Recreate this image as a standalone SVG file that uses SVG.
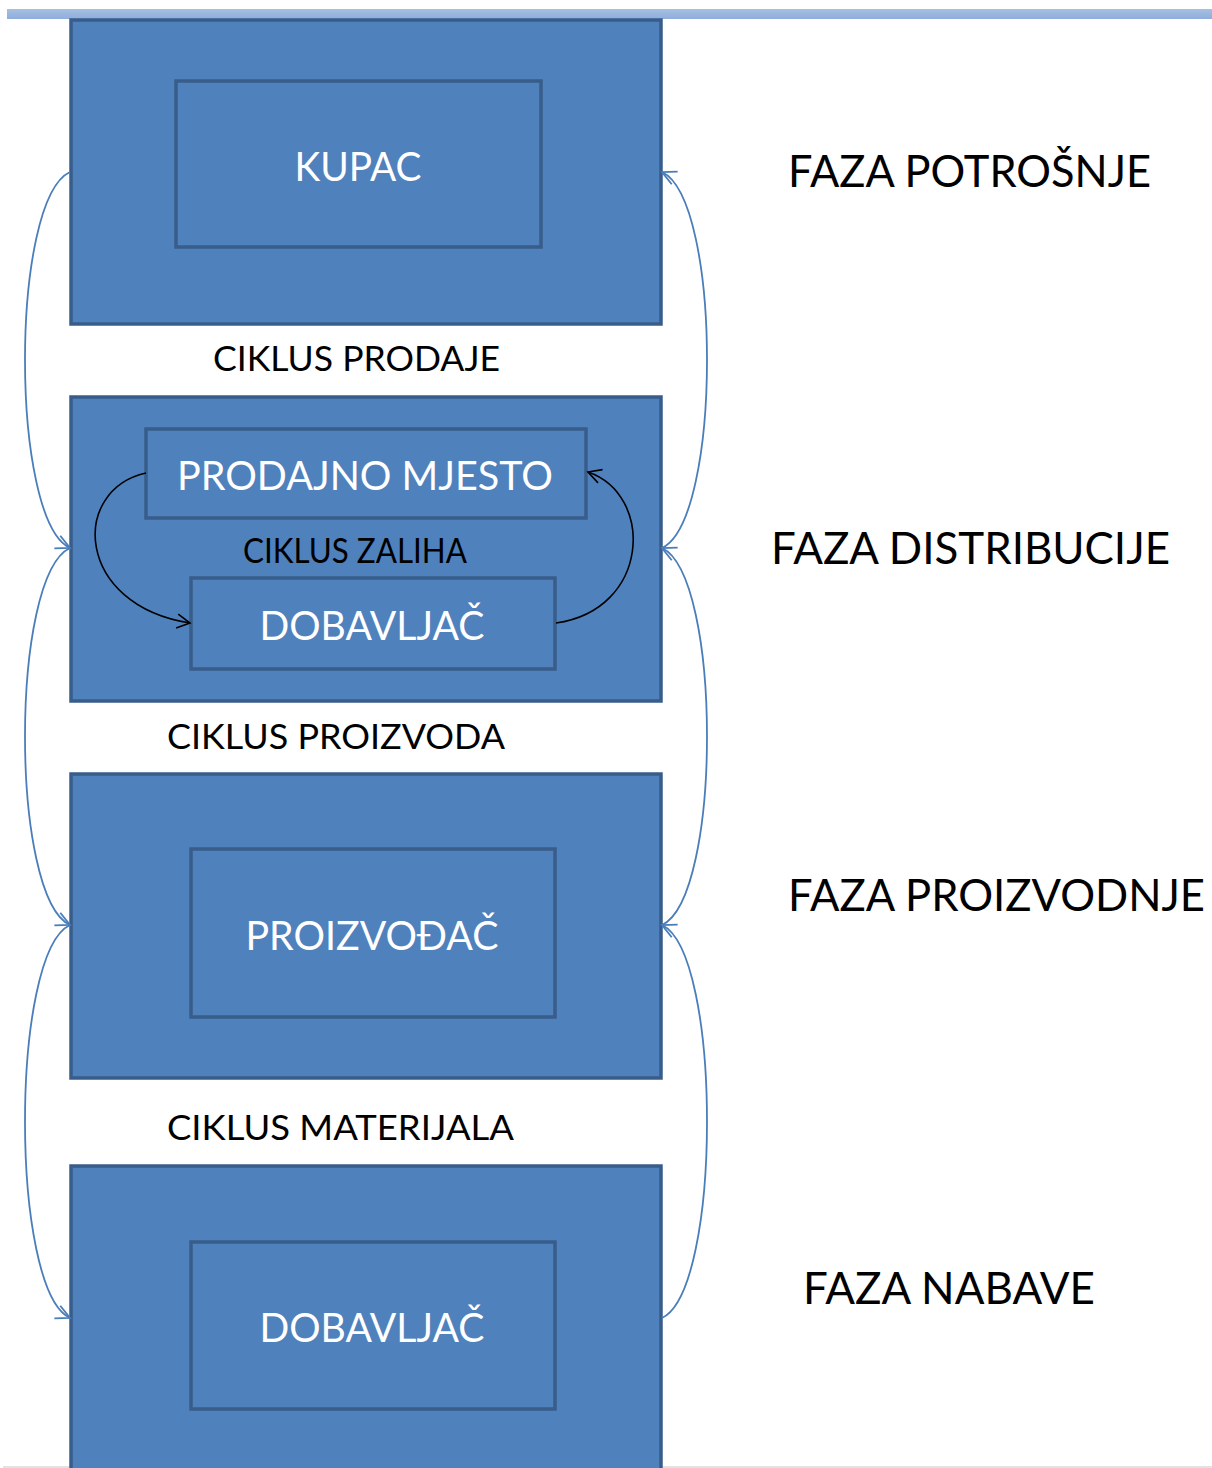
<svg xmlns="http://www.w3.org/2000/svg" width="1212" height="1468" viewBox="0 0 1212 1468">
<style>
.outer{fill:#4f81bd;stroke:#385d8a;stroke-width:3.5}
.inner{fill:#4f81bd;stroke:#385d8a;stroke-width:3.5}
.wt{font-family:Lato,"Open Sans",sans-serif;fill:#ffffff;font-size:40px;text-anchor:middle}
.bt{font-family:Lato,"Open Sans",sans-serif;fill:#000000;font-size:34px}
.ft{font-family:Lato,"Open Sans",sans-serif;fill:#000000;font-size:44px}
.bc{fill:none;stroke:#4a7ebb;stroke-width:1.8}
.kc{fill:none;stroke:#000000;stroke-width:1.6}
</style>
<defs>
<marker id="ab" viewBox="-16 -9 18 18" refX="0" refY="0" markerWidth="18" markerHeight="18" markerUnits="userSpaceOnUse" orient="auto">
<path d="M-14,-7 L0,0 L-14,7" fill="none" stroke="#4a7ebb" stroke-width="1.8"/>
</marker>
<marker id="ak" viewBox="-16 -9 18 18" refX="0" refY="0" markerWidth="18" markerHeight="18" markerUnits="userSpaceOnUse" orient="auto">
<path d="M-13,-7 L0,0 L-13,7" fill="none" stroke="#000000" stroke-width="1.6"/>
</marker>
<linearGradient id="bar" x1="0" y1="0" x2="0" y2="1">
<stop offset="0" stop-color="#a6bfe3"/>
<stop offset="1" stop-color="#8eaedb"/>
</linearGradient>
</defs>
<rect x="7" y="9" width="1205" height="10" fill="url(#bar)"/>
<line x1="3" y1="1467" x2="1212" y2="1467" stroke="#d9d9d9" stroke-width="1.5"/>

<g id="faza-potrosnje">
<rect class="outer" x="71" y="20" width="590" height="304"/>
<g id="kupac"><rect class="inner" x="176" y="81" width="365" height="166"/>
<text class="wt" x="358" y="181" textLength="127" lengthAdjust="spacingAndGlyphs">KUPAC</text></g>
</g>
<g id="faza-distribucije">
<rect class="outer" x="71" y="397" width="590" height="304"/>
<g id="prodajno-mjesto"><rect class="inner" x="146" y="429" width="440" height="89"/>
<text class="wt" x="365" y="490" textLength="376" lengthAdjust="spacingAndGlyphs">PRODAJNO MJESTO</text></g>
<g id="dobavljac-1"><rect class="inner" x="191" y="578" width="364" height="91"/>
<text class="wt" x="372" y="640" textLength="225" lengthAdjust="spacingAndGlyphs">DOBAVLJAČ</text></g>
</g>
<g id="faza-proizvodnje">
<rect class="outer" x="71" y="774" width="590" height="304"/>
<g id="proizvodjac"><rect class="inner" x="191" y="849" width="364" height="168"/>
<text class="wt" x="372" y="950" textLength="253" lengthAdjust="spacingAndGlyphs">PROIZVOĐAČ</text></g>
</g>
<g id="faza-nabave">
<rect class="outer" x="71" y="1166" width="590" height="310"/>
<g id="dobavljac-2"><rect class="inner" x="191" y="1242" width="364" height="167"/>
<text class="wt" x="372" y="1342" textLength="225" lengthAdjust="spacingAndGlyphs">DOBAVLJAČ</text></g>
</g>

<g id="labels">
<text class="bt" x="213" y="371" textLength="287" lengthAdjust="spacingAndGlyphs">CIKLUS PRODAJE</text>
<text class="bt" x="243" y="563" font-size="30" textLength="224" lengthAdjust="spacingAndGlyphs">CIKLUS ZALIHA</text>
<text class="bt" x="167" y="749" textLength="338" lengthAdjust="spacingAndGlyphs">CIKLUS PROIZVODA</text>
<text class="bt" x="167" y="1140" textLength="347" lengthAdjust="spacingAndGlyphs">CIKLUS MATERIJALA</text>
<text class="ft" x="788" y="187" textLength="363" lengthAdjust="spacingAndGlyphs">FAZA POTROŠNJE</text>
<text class="ft" x="771" y="564" textLength="399" lengthAdjust="spacingAndGlyphs">FAZA DISTRIBUCIJE</text>
<text class="ft" x="788" y="911" textLength="417" lengthAdjust="spacingAndGlyphs">FAZA PROIZVODNJE</text>
<text class="ft" x="803" y="1304" textLength="292" lengthAdjust="spacingAndGlyphs">FAZA NABAVE</text>
</g>

<g id="connectors">
<path class="bc" d="M70,172 C10,200 10,520 70,548" marker-end="url(#ab)"/>
<path class="bc" d="M70,548 C10,576 10,897 70,925" marker-end="url(#ab)"/>
<path class="bc" d="M70,925 C10,953 10,1290 70,1318" marker-end="url(#ab)"/>
<path class="bc" d="M662,548 C722,520 722,200 662,172" marker-end="url(#ab)"/>
<path class="bc" d="M662,925 C722,897 722,576 662,548" marker-end="url(#ab)"/>
<path class="bc" d="M662,1318 C722,1290 722,953 662,925" marker-end="url(#ab)"/>
<path class="kc" d="M146,473 C70,490 75,605 190,623" marker-end="url(#ak)"/>
<path class="kc" d="M556,623 C650,610 655,495 588,472" marker-end="url(#ak)"/>
</g>
</svg>
